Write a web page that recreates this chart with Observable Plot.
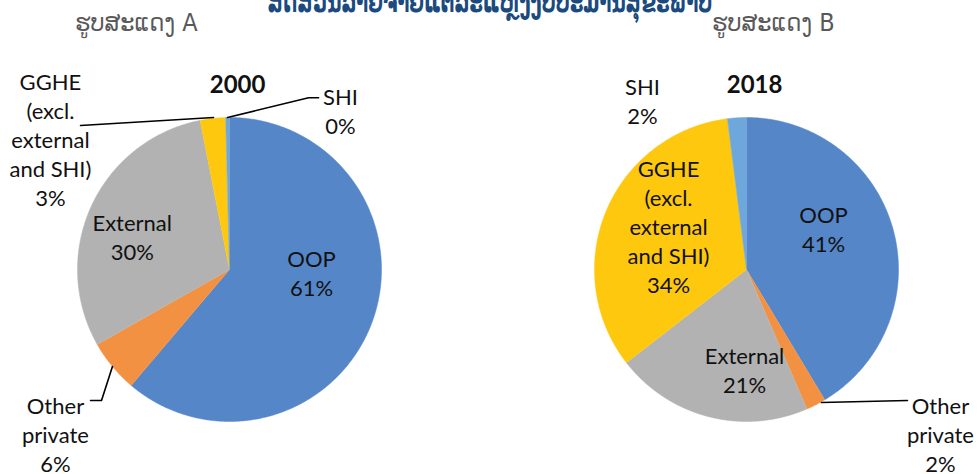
<!DOCTYPE html>
<html><head><meta charset="utf-8">
<script src="https://cdn.jsdelivr.net/npm/d3@7"></script>
<script src="https://cdn.jsdelivr.net/npm/@observablehq/plot@0.6"></script>
<style>
html,body{margin:0;padding:0;background:#fff;overflow:hidden;}
#wrap{position:relative;width:979px;height:474px;overflow:hidden;}
#title{position:absolute;left:0;width:979px;top:-16px;text-align:center;white-space:nowrap;}
#title span{display:inline-block;font:bold 30px "DejaVu Sans Condensed","DejaVu Sans",sans-serif;color:#1B4A7E;transform:scaleX(0.72);transform-origin:center;}
.sub{position:absolute;top:8px;font:25px "DejaVu Sans Condensed","DejaVu Sans",sans-serif;color:#595959;white-space:nowrap;}
.pie{position:absolute;top:40px;}
</style></head><body>
<div id="wrap">
  <div id="title"><span>ສັດສ່ວນລາຍຈ່າຍແຕ່ລະແຫຼ່ງງົບປະມານສຸຂະພາບ</span></div>
  <div class="sub" style="left:75px">ຮູບສະແດງ A</div>
  <div class="sub" style="left:712px">ຮູບສະແດງ B</div>
  <div class="pie" id="pieA" style="left:0px"></div>
  <div class="pie" id="pieB" style="left:489px"></div>
</div>
<script>
// ---- data ----
const categories = ["OOP", "Other private", "External", "GGHE (excl. external and SHI)", "SHI"];
const categoryLabels = ["OOP", "Other\nprivate", "External", "GGHE\n(excl.\nexternal\nand SHI)", "SHI"];
const years = ["2000", "2018"];
const share2000 = [61.2, 5.6, 30.1, 2.7, 0.4];
const share2018 = [41.4, 2.1, 21.0, 33.5, 2.0];
const sliceColors = ["#5586C8", "#F39142", "#B2B2B2", "#FEC80E", "#6EA7DC"];

// ---- layout (label anchors in pie-radius units, relative to centre) ----
const labelPosA = [[0.54, -0.02], [-1.145, -1.08], [-0.64, 0.22], [-1.178, 0.862], [0.73, 1.046]];
const labelPosB = [[0.507, 0.27], [1.276, -1.08], [-0.013, -0.658], [-0.513, 0.29], [-0.684, 1.112]];
const leadersA = [
  [[-0.77, -0.638], [-0.842, -0.862], [-0.914, -0.862]],
  [[-0.98, 0.947], [-0.105, 1.0]],
  [[-0.013, 1.0], [0.52, 1.13], [0.586, 1.13]]
];
const leadersB = [
  [[0.493, -0.875], [1.059, -0.862]]
];

function slicePoints(values) {
  const total = d3.sum(values);
  let acc = 0;
  const pts = [];
  values.forEach((v, i) => {
    const a0 = acc / total * 2 * Math.PI;
    acc += v;
    const a1 = acc / total * 2 * Math.PI;
    const n = Math.max(2, Math.ceil((a1 - a0) / (Math.PI / 360)));
    pts.push({cat: categories[i], x: 0, y: 0});
    for (let k = 0; k <= n; k++) {
      const a = a0 + (a1 - a0) * k / n;
      pts.push({cat: categories[i], x: Math.sin(a), y: Math.cos(a)});
    }
  });
  return pts;
}

function drawPie(values, year, labelPos, leaders, cx, cy, r, w, h) {
  const labels = values.map((v, i) => ({
    x: labelPos[i][0], y: labelPos[i][1],
    text: categoryLabels[i] + "\n" + Math.round(v) + "%"
  }));
  const leaderPts = leaders.flatMap((l, j) => l.map(p => ({id: j, x: p[0], y: p[1]})));
  return Plot.plot({
    width: w, height: h, margin: 0,
    style: {fontFamily: "Lato, 'Open Sans', sans-serif", background: "transparent", overflow: "visible"},
    x: {domain: [-1, 1], range: [cx - r, cx + r], axis: null},
    y: {domain: [-1, 1], range: [cy + r, cy - r], axis: null},
    color: {domain: categories, range: sliceColors},
    marks: [
      Plot.line(slicePoints(values), {x: "x", y: "y", z: "cat", fill: "cat", stroke: "cat", strokeWidth: 0.5, curve: "linear"}),
      Plot.line(leaderPts, {x: "x", y: "y", z: "id", stroke: "#000", strokeWidth: 1.6, curve: "linear"}),
      Plot.text(labels, {x: "x", y: "y", text: "text", fontSize: 22, lineHeight: 1.32, fill: "#111"}),
      Plot.text([year], {x: () => 0.053, y: () => 1.21, text: d => d, fontSize: 24, fontWeight: "bold", fill: "#111"})
    ]
  });
}

document.getElementById("pieA").append(drawPie(share2000, years[0], labelPosA, leadersA, 229, 229, 152, 490, 434));
document.getElementById("pieB").append(drawPie(share2018, years[1], labelPosB, leadersB, 257, 229, 152, 490, 434));
</script>
</body></html>
